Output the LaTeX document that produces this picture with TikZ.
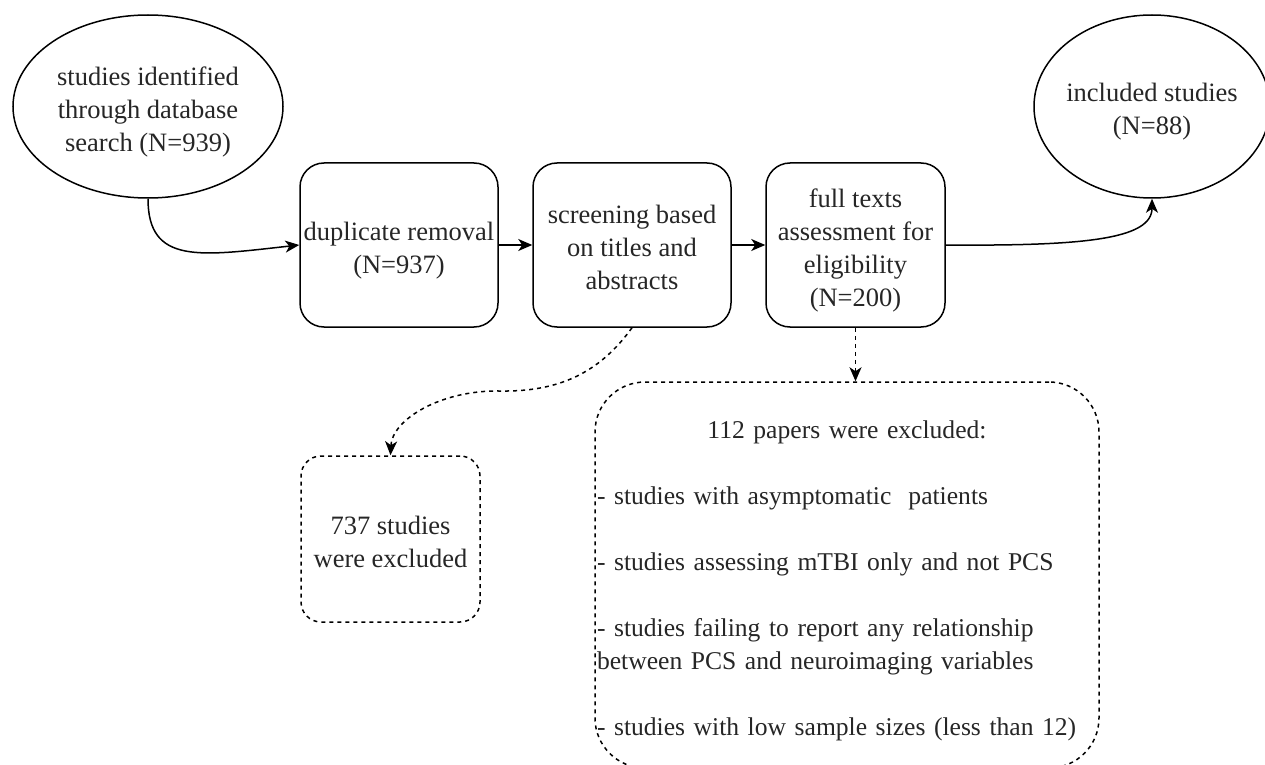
\documentclass[tikz,border=0pt]{standalone}
\usepackage{fontspec}
\setmainfont{Liberation Serif}
\usepackage{tikz}
\usetikzlibrary{arrows.meta,calc,positioning,shapes.geometric}

% room above the first line and below the last one, as in the drawing program
\newcommand\lntop{\rule{0pt}{15.7pt}}
\newcommand\lnbot{\rule[-3.8pt]{0pt}{3.8pt}}

\begin{document}
\begin{tikzpicture}[
    x=0.5pt,y=-0.5pt,
    every node/.style={font=\fontsize{13.25pt}{16.5pt}\selectfont,text=black!85},
    oval/.style={ellipse,draw,line width=0.75pt,inner xsep=-4pt,inner ysep=0pt,
      minimum width=135pt,minimum height=91.5pt,align=center},
    stage/.style={rectangle,rounded corners=12pt,draw,line width=0.75pt,
      minimum width=99pt,minimum height=82pt,inner sep=0pt,align=center},
    dropbox/.style={rectangle,draw,line width=0.75pt,dash pattern=on 2pt off 2pt,
      inner sep=0pt},
    arr/.style={-{Stealth[length=7pt,width=6pt,inset=2pt]},line width=0.75pt},
    darr/.style={arr,dash pattern=on 2pt off 2pt}
  ]
    \useasboundingbox (0,0) rectangle (1265,765);

    \node[oval] (found) at (148,106.5)
      {\lntop studies identified\\through database\\search (N=939)\lnbot};
    \node[stage] (dup) at (399,245)
      {\lntop duplicate removal\\(N=937)\lnbot};
    \node[stage] (screen) at (632,245)
      {\lntop screening based\\on titles and\\abstracts\lnbot};
    \node[stage,minimum width=89.5pt] (full) at (855.5,245)
      {\lntop full texts\\assessment for\\eligibility\\(N=200)\lnbot};
    \node[oval,minimum width=118pt] (incl) at (1152,106.5)
      {\lntop included studies\\(N=88)\lnbot};

    \node[dropbox,rounded corners=10pt,minimum width=89.5pt,minimum height=83pt,
      align=center] (excl1) at (390.5,539)
      {\lntop 737 studies\\were excluded\lnbot};
    \node[dropbox,rounded corners=25pt,text width=250pt,minimum height=193pt,
      inner xsep=1pt,align=left,font=\fontsize{12.8pt}{16.5pt}\selectfont]
      (excl2) at (847,575)
      {\lntop\hspace*{\fill}112 papers were excluded:\hspace*{\fill}\mbox{}\\[16.5pt]
       - studies with asymptomatic~ patients\\[16.5pt]
       - studies assessing mTBI only and not PCS\\[16.5pt]
       - studies failing to report any relationship\\
       between PCS and neuroimaging variables\\[16.5pt]
       - studies with low sample sizes (less than 12)\lnbot};

    \draw[arr] (found.south) .. controls (148,265) and (200,256) .. (dup.west);
    \draw[arr] (dup) -- (screen);
    \draw[arr] (screen) -- (full);
    \draw[arr] (full.east) .. controls (1080,246) and (1152,240) .. (incl.south);
    \draw[darr] (screen.south) .. controls (600,372) and (560,392) .. (500,391)
      .. controls (440,390) and (392,420) .. (excl1.north);
    \draw[darr] (full.south) -- (full.south |- excl2.north);
  \end{tikzpicture}
\end{document}
